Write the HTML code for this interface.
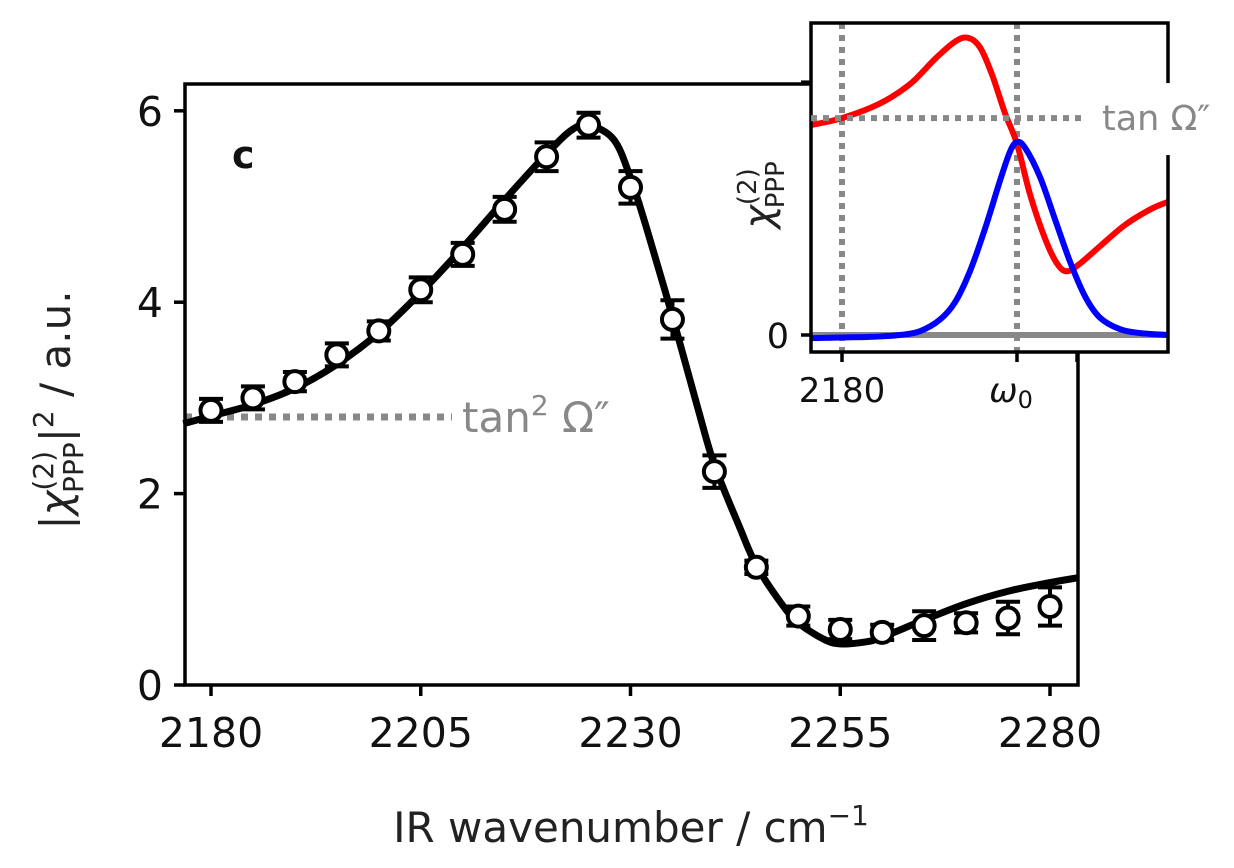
<!DOCTYPE html>
<html><head><meta charset="utf-8"><style>
html,body{margin:0;padding:0;background:#fff}
svg{display:block;font-family:"DejaVu Sans","Liberation Sans",sans-serif}
</style></head><body>
<svg id="chart" width="1234" height="868" viewBox="0 0 1234 868">
<g id="main"></g>
<g id="inset"></g>
</svg>
<script>
const xTicks=[2180,2205,2230,2255,2280];
const yTicks=[0,2,4,6];
const dataX=[2180,2185,2190,2195,2200,2205,2210,2215,2220,2225,2230,2235,2240,2245,2250,2255,2260,2265,2270,2275,2280];
const dataY=[2.87,3.0,3.17,3.45,3.7,4.13,4.5,4.97,5.52,5.85,5.2,3.82,2.23,1.23,0.72,0.58,0.55,0.62,0.65,0.7,0.82];
const dataErr=[0.12,0.12,0.1,0.12,0.1,0.13,0.12,0.13,0.15,0.13,0.17,0.2,0.17,0.07,0.1,0.1,0.08,0.15,0.1,0.17,0.2];
const fitX=[2176.7,2180,2185,2190,2195,2200,2205,2210,2215,2220,2223,2225,2228,2230,2232,2235,2238,2240,2243,2245,2248,2250,2253,2255,2258,2260,2265,2270,2275,2280,2283.3];
const fitY=[2.73,2.81,2.93,3.1,3.35,3.68,4.1,4.57,5.07,5.55,5.8,5.85,5.7,5.3,4.75,3.85,2.9,2.3,1.65,1.25,0.85,0.65,0.48,0.43,0.45,0.5,0.68,0.85,0.98,1.07,1.12];
const baseline=2.8;
// inset data (u: 0 = 2180, 1 = omega0)
const insetXTicks=["2180","ω"];
const redU=[-0.177,0,0.217,0.389,0.531,0.646,0.72,0.789,0.857,0.931,1,1.074,1.16,1.229,1.286,1.36,1.474,1.617,1.76,1.863];
const redV=[1.088,1.124,1.2,1.3,1.43,1.52,1.54,1.49,1.35,1.15,0.99,0.73,0.5,0.37,0.33,0.37,0.46,0.57,0.65,0.69];
const blueU=[-0.177,0.16,0.331,0.446,0.56,0.646,0.731,0.817,0.903,0.96,1,1.046,1.131,1.217,1.303,1.389,1.474,1.589,1.703,1.863];
const blueV=[-0.016,-0.01,0,0.02,0.08,0.17,0.33,0.55,0.8,0.95,1.0,0.97,0.82,0.6,0.38,0.2,0.09,0.03,0.01,0];
const insetLevel=1.124;

const NS="http://www.w3.org/2000/svg";
function mk(tag,attrs,parent){const e=document.createElementNS(NS,tag);for(const k in attrs)e.setAttribute(k,attrs[k]);parent.appendChild(e);return e;}
function smooth(pts){let d="M"+pts[0][0]+","+pts[0][1];for(let i=0;i<pts.length-1;i++){const p0=pts[Math.max(0,i-1)],p1=pts[i],p2=pts[i+1],p3=pts[Math.min(pts.length-1,i+2)];const c1=[p1[0]+(p2[0]-p0[0])/6,p1[1]+(p2[1]-p0[1])/6],c2=[p2[0]-(p3[0]-p1[0])/6,p2[1]-(p3[1]-p1[1])/6];d+=" C"+c1[0]+","+c1[1]+" "+c2[0]+","+c2[1]+" "+p2[0]+","+p2[1];}return d;}

const L=185,R=1078,T=84,B=685;
const X=v=>211+(v-2180)*8.39;
const Y=v=>685-v*95.7;
const g=document.getElementById('main');
let bl=mk('line',{x1:L,x2:452,y1:Y(baseline),y2:Y(baseline),stroke:'#888','stroke-width':7,'stroke-dasharray':'7 7'},g);


let bt=mk('text',{x:462,y:Y(baseline)+15,'font-size':42,fill:'#888'},g);
bt.innerHTML='tan<tspan font-size="28" dy="-17">2</tspan><tspan dy="17"> Ω″</tspan>';


const fp=fitX.map((x,i)=>[X(x),Y(fitY[i])]);
let fit=mk('path',{d:smooth(fp),fill:'none',stroke:'#000','stroke-width':7},g);


dataX.forEach((x,i)=>{
  const cx=X(x),cy=Y(dataY[i]),e=dataErr[i]*95.7;
  let eb=mk('path',{d:`M${cx},${cy-e}V${cy+e}M${cx-12},${cy-e}H${cx+12}M${cx-12},${cy+e}H${cx+12}`,stroke:'#000','stroke-width':4,fill:'none'},g);
  
  
  let c=mk('circle',{cx:cx,cy:cy,r:10.5,fill:'#fff',stroke:'#000','stroke-width':4},g);
  
  
});
let fr=mk('rect',{x:L,y:T,width:R-L,height:B-T,fill:'none',stroke:'#000','stroke-width':3.5},g);


xTicks.forEach(t=>{
  let tl=mk('line',{x1:X(t),x2:X(t),y1:B,y2:B+11,stroke:'#000','stroke-width':3.5},g);
  
  
  let tx=mk('text',{x:X(t),y:B+62,'font-size':41,'text-anchor':'middle',fill:'#111'},g);
  tx.textContent=t;
  
  
});
yTicks.forEach(t=>{
  let tl=mk('line',{x1:L-11,x2:L,y1:Y(t),y2:Y(t),stroke:'#000','stroke-width':3.5},g);
  
  
  let tx=mk('text',{x:L-22,y:Y(t)+15,'font-size':41,'text-anchor':'end',fill:'#111'},g);
  tx.textContent=t;
  
  
});
let xl=mk('text',{x:631,y:842,'font-size':42,'text-anchor':'middle',fill:'#222'},g);
xl.innerHTML='IR wavenumber / cm<tspan font-size="28" dy="-17">−1</tspan>';


let yl=mk('text',{x:0,y:0,'font-size':42,'text-anchor':'middle',fill:'#222',transform:'translate(70,410) rotate(-90)'},g);
yl.innerHTML='|<tspan font-style="italic">χ</tspan><tspan font-size="28" dy="-17">(2)</tspan><tspan font-size="28" dx="-42" dy="30">PPP</tspan><tspan dy="-13">|</tspan><tspan font-size="28" dy="-17">2</tspan><tspan dy="17"> / a.u.</tspan>';


let pl=mk('text',{x:232,y:168,'font-size':38,'font-weight':'bold',fill:'#111'},g);
pl.textContent='c';



// inset
const h=document.getElementById('inset');
const iL=811,iR=1168,iT=23,iB=352;
const U=u=>842+u*175;
const V=v=>335-v*193;
let ibg=mk('rect',{x:iL,y:iT,width:iR-iL,height:iB-iT,fill:'#fff'},h);


let zl=mk('line',{x1:iL,x2:iR,y1:V(0),y2:V(0),stroke:'#888','stroke-width':6},h);


[0,1].forEach(u=>{
  let vl=mk('line',{x1:U(u),x2:U(u),y1:iT,y2:iB,stroke:'#888','stroke-width':6,'stroke-dasharray':'6 6'},h);
  
  
});
let rp=mk('path',{d:smooth(redU.map((u,i)=>[U(u),V(redV[i])])),fill:'none',stroke:'#f00','stroke-width':6},h);


let bp=mk('path',{d:smooth(blueU.map((u,i)=>[U(u),V(blueV[i])])),fill:'none',stroke:'#00f','stroke-width':6},h);


let ifr=mk('rect',{x:iL,y:iT,width:iR-iL,height:iB-iT,fill:'none',stroke:'#000','stroke-width':3.5},h);


let wb=mk('rect',{x:1090,y:V(insetLevel)-35,width:90,height:72,fill:'#fff'},h);


let hl=mk('line',{x1:iL,x2:1085,y1:V(insetLevel),y2:V(insetLevel),stroke:'#888','stroke-width':6,'stroke-dasharray':'6 6'},h);


let itl=mk('text',{x:1102,y:V(insetLevel)+12,'font-size':35,fill:'#888'},h);
itl.textContent='tan Ω″';


[0,1,1.343].forEach(u=>{
  let t=mk('line',{x1:U(u),x2:U(u),y1:iB,y2:iB+10,stroke:'#000','stroke-width':3.5},h);
  
  
});
insetXTicks.forEach((s,i)=>{
  let t=mk('text',{x:U(i)-(i?6:0),y:402,'font-size':34,'text-anchor':'middle',fill:'#111','font-style':i?'italic':'normal'},h);
  t.textContent=s;
  if(i){const sub=mk('tspan',{'font-size':24,dy:6,'font-style':'normal'},t);sub.textContent='0';}
  
  
});
[0,1.31].forEach(v=>{
  let t=mk('line',{x1:iL-10,x2:iL,y1:V(v),y2:V(v),stroke:'#000','stroke-width':3.5},h);
  
  
});
let iy0=mk('text',{x:iL-22,y:V(0)+13,'font-size':35,'text-anchor':'end',fill:'#111'},h);
iy0.textContent='0';


let iyl=mk('text',{x:0,y:0,'font-size':40,'text-anchor':'middle',fill:'#222',transform:'translate(772,195) rotate(-90)'},h);
iyl.innerHTML='<tspan font-style="italic">χ</tspan><tspan font-size="26" dy="-16">(2)</tspan><tspan font-size="26" dx="-40" dy="28">PPP</tspan>';


</script>
</body></html>
